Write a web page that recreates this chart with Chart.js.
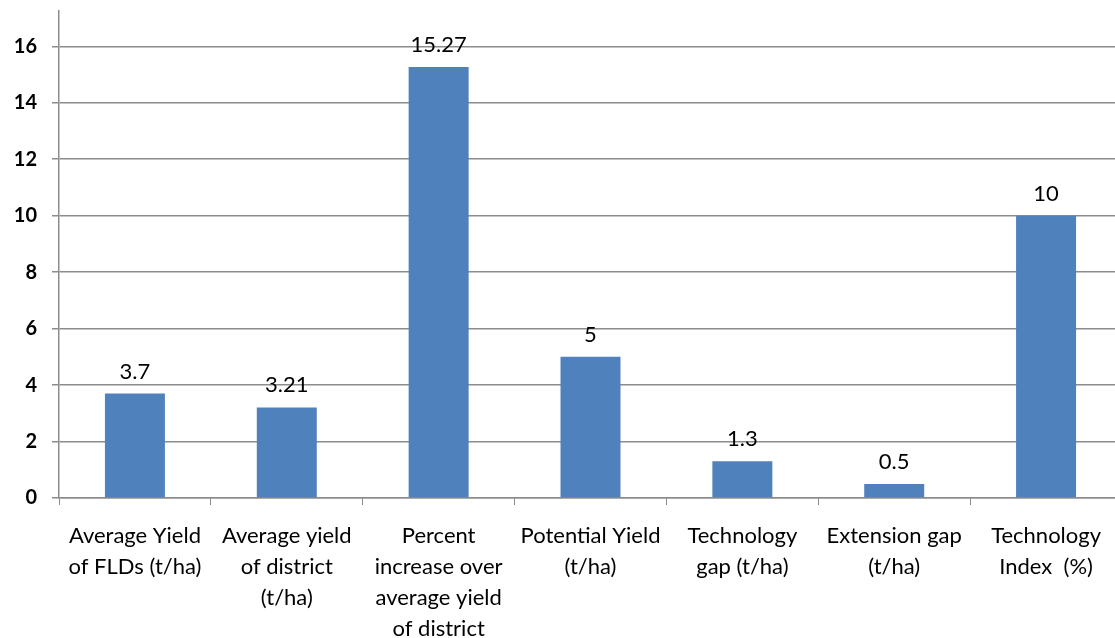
<!DOCTYPE html>
<html>
<head>
<meta charset="utf-8">
<script src="https://cdn.jsdelivr.net/npm/chart.js@4.4.1/dist/chart.umd.min.js"></script>
<style>
  html, body { margin: 0; padding: 0; background: #fff; overflow: hidden; }
  #wrap { width: 1122px; height: 638px; position: relative; }
</style>
</head>
<body>
<div id="wrap"><canvas id="chart"></canvas></div>
<script>
const categories = [
  ["Average Yield", "of FLDs (t/ha)"],
  ["Average yield", "of district", "(t/ha)"],
  ["Percent", "increase over", "average yield", "of district"],
  ["Potential Yield", "(t/ha)"],
  ["Technology", "gap (t/ha)"],
  ["Extension gap", "(t/ha)"],
  ["Technology", "Index  (%)"],
];
const values = [3.7, 3.21, 15.27, 5, 1.3, 0.5, 10];
const valueLabels = ["3.7", "3.21", "15.27", "5", "1.3", "0.5", "10"];
const yTicks = [0, 2, 4, 6, 8, 10, 12, 14, 16];

const fontFamily = "Lato, 'Open Sans', sans-serif";

// labels above bars
const barLabels = {
  id: "barLabels",
  afterDatasetsDraw(chart) {
    const ctx = chart.ctx;
    const meta = chart.getDatasetMeta(0);
    ctx.save();
    ctx.font = "22px " + fontFamily;
    ctx.fillStyle = "#000";
    ctx.textAlign = "center";
    ctx.textBaseline = "alphabetic";
    meta.data.forEach((bar, i) => {
      ctx.fillText(valueLabels[i], bar.x, bar.y - 15);
    });
    ctx.restore();
  }
};

new Chart(document.getElementById("chart"), {
  type: "bar",
  data: {
    labels: categories,
    datasets: [{
      data: values,
      backgroundColor: "#4F81BD",
      borderWidth: 0,
      barPercentage: 0.395,
      categoryPercentage: 1,
    }],
  },
  options: {
    responsive: true,
    maintainAspectRatio: false,
    animation: false,
    layout: { padding: { top: 11, right: 0, left: 0, bottom: 0 } },
    plugins: {
      legend: { display: false },
      tooltip: { enabled: false },
    },
    scales: {
      x: {
        type: "category",
        afterFit: (s) => { s.height = 140; s.paddingLeft = 0; s.paddingRight = 0; },
        grid: {
          offset: true,
          drawOnChartArea: false,
          drawTicks: true,
          tickLength: 7,
          color: "#8c8c8c",
        },
        border: { color: "#8c8c8c", width: 1.5 },
        ticks: {
          color: "#000",
          font: { family: fontFamily, size: 22, lineHeight: 1.4 },
          padding: 16,
          maxRotation: 0,
          autoSkip: false,
        },
      },
      y: {
        min: 0,
        max: 17.25,
        afterFit: (s) => { s.width = 59; s.paddingTop = 0; s.paddingBottom = 0; },
        afterBuildTicks: (s) => {
          s.ticks = yTicks.map((v) => ({ value: v }));
        },
        grid: {
          color: "#8c8c8c",
          lineWidth: 1.5,
          tickLength: 7,
        },
        border: { color: "#8c8c8c", width: 1.5 },
        ticks: {
          color: "#000",
          font: { family: fontFamily, size: 20, weight: "bold" },
          padding: 15,
        },
      },
    },
  },
  plugins: [barLabels],
});
</script>
</body>
</html>
